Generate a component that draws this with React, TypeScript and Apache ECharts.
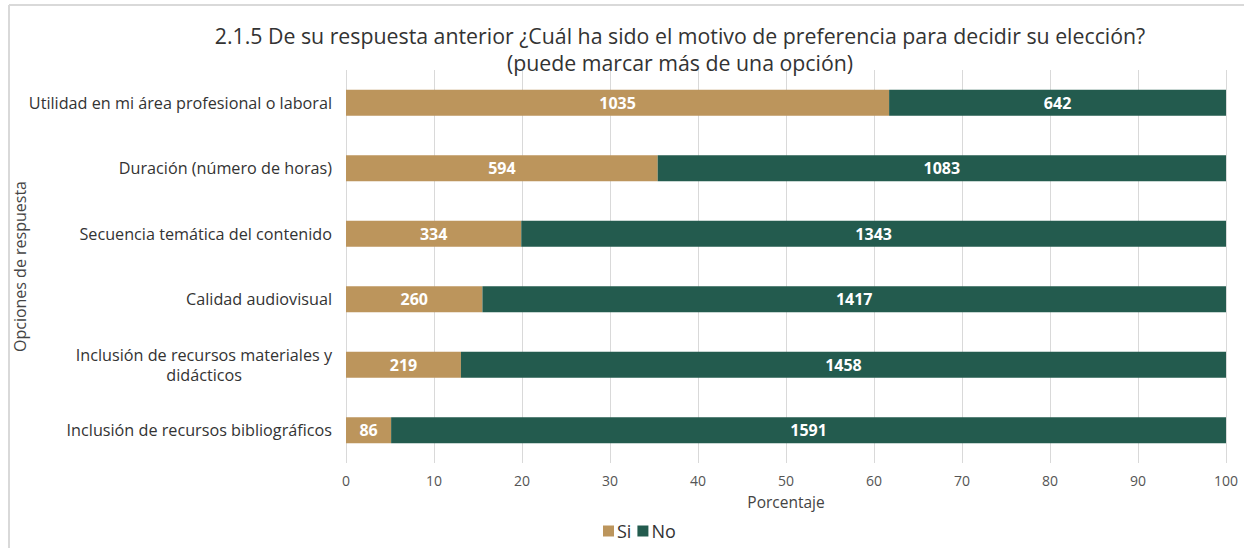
import React, { useEffect, useRef } from "react";
import * as echarts from "echarts";

const titleText =
  "2.1.5 De su respuesta anterior ¿Cuál ha sido el motivo de preferencia para decidir su elección?\n(puede marcar más de una opción)";
const categories = [
  "Utilidad en mi área profesional o laboral",
  "Duración (número de horas)",
  "Secuencia temática del contenido",
  "Calidad audiovisual",
  "Inclusión de recursos materiales y\ndidácticos",
  "Inclusión de recursos bibliográficos",
];
const siCounts = [1035, 594, 334, 260, 219, 86];
const noCounts = [642, 1083, 1343, 1417, 1458, 1591];
const seriesNames = ["Si", "No"];
const xTicks = [0, 10, 20, 30, 40, 50, 60, 70, 80, 90, 100];

const FONT = "'Open Sans', sans-serif";

export default function App() {
  const ref = useRef<HTMLDivElement>(null);
  useEffect(() => {
    document.body.style.margin = "0";
    if (!ref.current) return;
    const chart = echarts.init(ref.current, undefined, { renderer: "svg" });
    const pct = (c: number, i: number) => (c / (siCounts[i] + noCounts[i])) * 100;
    const mk = (counts: number[]) =>
      counts.map((c, i) => ({ value: pct(c, i), count: c }));
    const labelCfg = {
      show: true,
      position: "inside",
      color: "#ffffff",
      fontWeight: "bold",
      fontSize: 16,
      fontFamily: FONT,
      formatter: (p: any) => String(p.data.count),
    };
    chart.setOption({
      animation: false,
      backgroundColor: "#ffffff",
      title: {
        text: titleText,
        left: 675,
        top: 17,
        textAlign: "center",
        textStyle: {
          fontSize: 21.3,
          fontWeight: "normal",
          color: "#333333",
          fontFamily: FONT,
          lineHeight: 27,
        },
      },
      legend: {
        data: seriesNames,
        bottom: 3,
        left: 598,
        itemWidth: 11,
        itemHeight: 11,
        itemGap: 6,
        icon: "rect",
        textStyle: { fontSize: 18, color: "#333333", fontFamily: FONT, padding: [0, 0, 0, -2] },
      },
      grid: {
        left: 346,
        right: 18,
        top: 70,
        bottom: 85,
        containLabel: false,
        outerBoundsMode: "none",
      },
      xAxis: {
        type: "value",
        min: 0,
        max: 100,
        interval: 10,
        name: "Porcentaje",
        nameLocation: "middle",
        nameGap: 31,
        nameTextStyle: { fontSize: 15.5, color: "#444444", fontFamily: FONT },
        axisLine: { show: false },
        axisTick: { show: false },
        splitLine: { show: true, lineStyle: { color: "#d9d9d9", width: 1 } },
        axisLabel: {
          fontSize: 14,
          color: "#555555",
          fontFamily: FONT,
          margin: 10,
          formatter: (v: number) => (xTicks.includes(v) ? String(v) : ""),
        },
      },
      yAxis: {
        type: "category",
        data: categories,
        inverse: true,
        name: "Opciones de respuesta",
        nameLocation: "middle",
        nameRotate: 90,
        nameGap: 318,
        nameMoveOverlap: false,
        nameTextStyle: { fontSize: 16, color: "#444444", fontFamily: FONT },
        axisLine: { show: false },
        axisTick: { show: false },
        axisLabel: {
          fontSize: 16.2,
          color: "#333333",
          fontFamily: FONT,
          margin: 14,
          lineHeight: 20,
          formatter: (v: string) => {
            const parts = v.split("\n");
            if (parts.length === 1) return v;
            return parts[0] + "\n{c|" + parts[1] + "}";
          },
          rich: {
            c: {
              fontSize: 16.2,
              color: "#333333",
              fontFamily: FONT,
              lineHeight: 20,
              padding: [0, 90, 0, 0],
            },
          },
        },
      },
      series: [
        {
          name: seriesNames[0],
          type: "bar",
          stack: "total",
          data: mk(siCounts),
          barWidth: 26,
          itemStyle: { color: "#BC955C" },
          label: labelCfg,
        },
        {
          name: seriesNames[1],
          type: "bar",
          stack: "total",
          data: mk(noCounts),
          barWidth: 26,
          itemStyle: { color: "#235B4E" },
          label: labelCfg,
        },
      ],
      graphic: [
        {
          type: "line",
          shape: { x1: 9, y1: 5, x2: 1244, y2: 5 },
          style: { stroke: "#d9d9d9", lineWidth: 2 },
        },
        {
          type: "line",
          shape: { x1: 9, y1: 5, x2: 9, y2: 548 },
          style: { stroke: "#d9d9d9", lineWidth: 2 },
        },
      ],
    });
    return () => chart.dispose();
  }, []);
  return <div ref={ref} style={{ width: 1244, height: 548 }} />;
}
